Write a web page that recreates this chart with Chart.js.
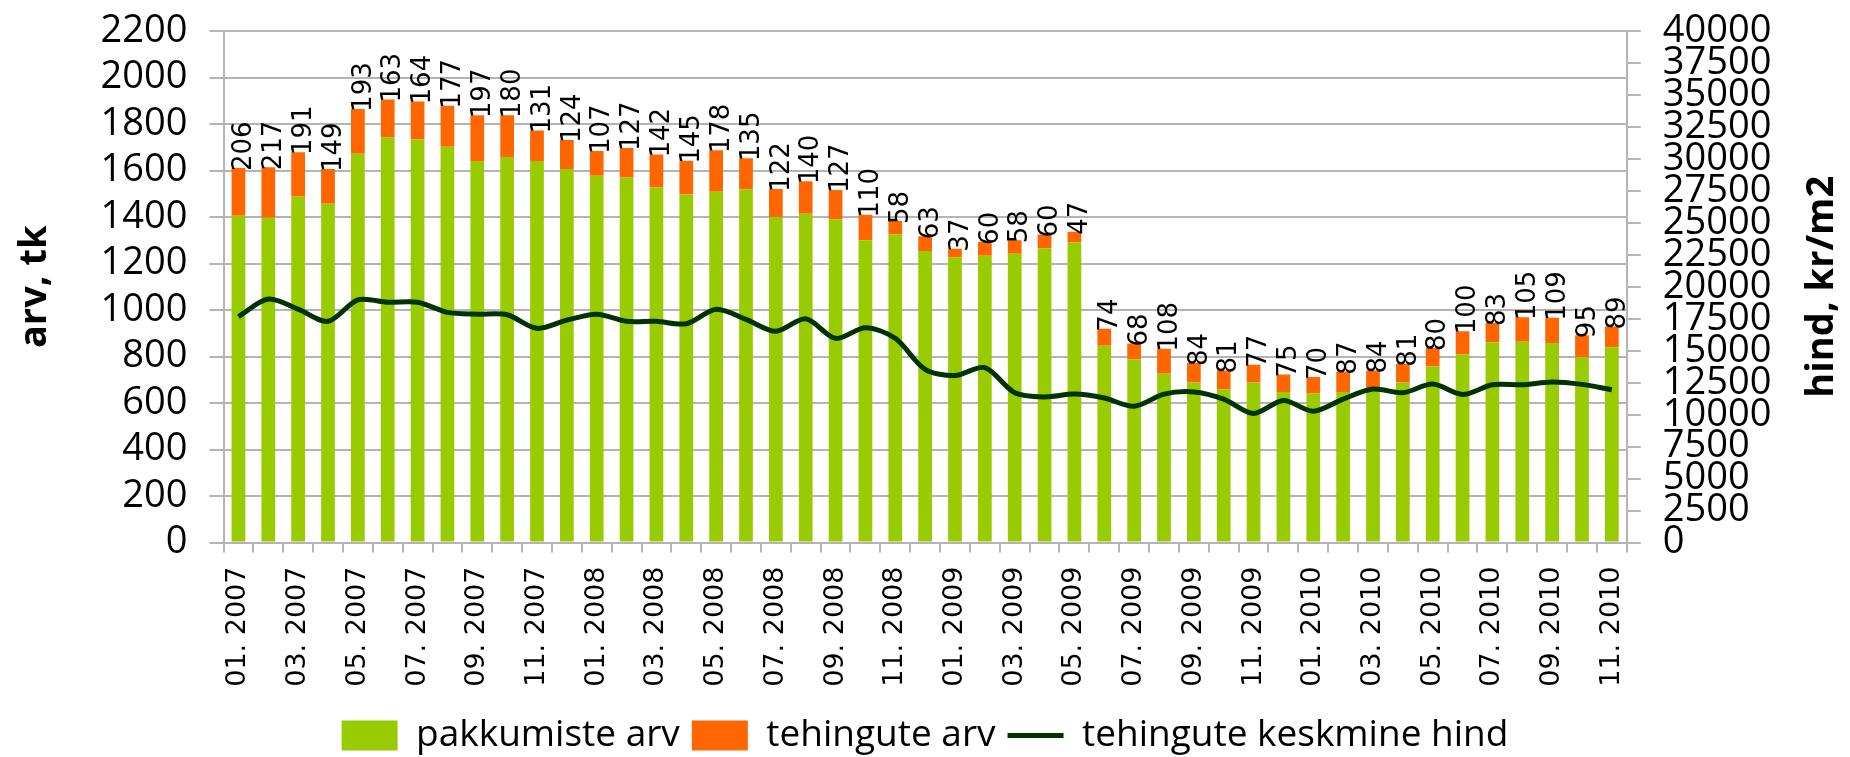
<!DOCTYPE html>
<html>
<head>
<meta charset="utf-8">
<script src="https://cdn.jsdelivr.net/npm/chart.js@4.4.1/dist/chart.umd.min.js"></script>
<style>
  html, body { margin: 0; padding: 0; background: #fff; }
  #wrap { width: 1850px; height: 757px; }
</style>
</head>
<body>
<div id="wrap"><canvas id="market-chart-canvas"></canvas></div>
<script>
// months 01.2007 - 11.2010
var months = ['01. 2007', '02. 2007', '03. 2007', '04. 2007', '05. 2007', '06. 2007', '07. 2007', '08. 2007', '09. 2007', '10. 2007', '11. 2007', '12. 2007',
  '01. 2008', '02. 2008', '03. 2008', '04. 2008', '05. 2008', '06. 2008', '07. 2008', '08. 2008', '09. 2008', '10. 2008', '11. 2008', '12. 2008',
  '01. 2009', '02. 2009', '03. 2009', '04. 2009', '05. 2009', '06. 2009', '07. 2009', '08. 2009', '09. 2009', '10. 2009', '11. 2009', '12. 2009',
  '01. 2010', '02. 2010', '03. 2010', '04. 2010', '05. 2010', '06. 2010', '07. 2010', '08. 2010', '09. 2010', '10. 2010', '11. 2010']

// pakkumiste arv (green part of the bar)
var pakkumised = [1405, 1397, 1488, 1457, 1672, 1742, 1733, 1702, 1641, 1658, 1641, 1607,
  1577, 1570, 1527, 1497, 1509, 1518, 1399, 1414, 1389, 1300, 1325, 1254,
  1227, 1233, 1242, 1265, 1290, 846, 788, 726, 688, 659, 688, 648,
  642, 648, 656, 688, 757, 809, 861, 864, 858, 797, 840]

// tehingute arv (orange part, also the labels)
var tehingud = [206, 217, 191, 149, 193, 163, 164, 177, 197, 180, 131, 124,
  107, 127, 142, 145, 178, 135, 122, 140, 127, 110, 58, 63,
  37, 60, 58, 60, 47, 74, 68, 108, 84, 81, 77, 75,
  70, 87, 84, 81, 80, 100, 83, 105, 109, 95, 89]

// tehingute keskmine hind, kr/m2
var hind = [17670, 19040, 18250, 17300, 18980, 18790, 18790, 18000, 17860, 17810, 16750, 17390,
  17860, 17300, 17300, 17110, 18250, 17450, 16520, 17500, 15970, 16800, 15970, 13540,
  13060, 13680, 11720, 11390, 11610, 11300, 10660, 11610, 11780, 11220, 10100, 11110,
  10270, 11220, 12000, 11720, 12390, 11580, 12340, 12340, 12560, 12370, 11950]

var leftTicks = [0, 200, 400, 600, 800, 1000, 1200, 1400, 1600, 1800, 2000, 2200]
var rightTicks = [0, 2500, 5000, 7500, 10000, 12500, 15000, 17500, 20000, 22500, 25000, 27500, 30000, 32500, 35000, 37500, 40000]

var gridColor = '#b4b4b4'
var tickFont = { family: '"Open Sans", sans-serif', size: 38 }

// numbers on top of the orange bars, rotated
var barLabels = {
  id: 'barLabels',
  afterDatasetsDraw: function (chart) {
    var ctx = chart.ctx
    var meta = chart.getDatasetMeta(1)
    ctx.save()
    ctx.font = '26px "DejaVu Sans"'
    ctx.fillStyle = '#000'
    ctx.textAlign = 'left'
    ctx.textBaseline = 'middle'
    meta.data.forEach(function (bar, i) {
      ctx.save()
      ctx.translate(bar.x + 6, bar.y + 3)
      ctx.rotate(-Math.PI / 2)
      ctx.fillText(String(tehingud[i]), 0, 0)
      ctx.restore()
    })
    ctx.restore()
  }
}

// right axis title reads bottom-to-top like the left one
var rightTitle = {
  id: 'rightTitle',
  afterDraw: function (chart) {
    var s = chart.scales.y1
    var ctx = chart.ctx
    ctx.save()
    ctx.font = 'bold 38px "Open Sans", sans-serif'
    ctx.fillStyle = '#000'
    ctx.textAlign = 'center'
    ctx.textBaseline = 'middle'
    ctx.translate(s.right - 5 - 22.8, (s.top + s.bottom) / 2)
    ctx.rotate(-Math.PI / 2)
    ctx.fillText('hind, kr/m2', 0, 0)
    ctx.restore()
  }
}

// labels may stick out above the plot, like in the original
function noTopPadding(scale) {
  scale.paddingTop = 0
}

Chart.defaults.color = '#000'
Chart.defaults.font.family = '"Open Sans", sans-serif'

var marketChartCanvas = document.getElementById('market-chart-canvas').getContext('2d')
var marketChart = new Chart(marketChartCanvas, {
  type: 'bar',
  data: {
    labels: months,
    datasets: [
      {
        label: 'pakkumiste arv',
        backgroundColor: '#99cc00',
        data: pakkumised,
        yAxisID: 'y',
        stack: 'arv',
        pointStyle: 'rect',
        barPercentage: 0.46,
        categoryPercentage: 1.0
      },
      {
        label: 'tehingute arv',
        backgroundColor: '#ff6600',
        data: tehingud,
        yAxisID: 'y',
        stack: 'arv',
        pointStyle: 'rect',
        barPercentage: 0.46,
        categoryPercentage: 1.0
      },
      {
        type: 'line',
        label: 'tehingute keskmine hind',
        borderColor: '#003300',
        backgroundColor: '#003300',
        borderWidth: 5,
        pointRadius: 0,
        pointStyle: 'line',
        tension: 0.3,
        data: hind,
        yAxisID: 'y1',
        order: -1
      }
    ]
  },
  options: {
    responsive: true,
    maintainAspectRatio: false,
    animation: false,
    layout: {
      padding: { top: 31, right: 0, bottom: -7, left: 0 }
    },
    plugins: {
      tooltip: { enabled: false },
      legend: {
        position: 'bottom',
        title: { display: true, text: '', font: { size: 1 }, padding: { top: 1.5, bottom: 1.5 } },
        labels: {
          usePointStyle: true,
          pointStyleWidth: 56,
          boxHeight: 30,
          padding: 12,
          font: { family: '"Open Sans", sans-serif', size: 37 },
          sort: function (a, b) { return a.datasetIndex - b.datasetIndex }
        }
      }
    },
    scales: {
      x: {
        stacked: true,
        grid: {
          display: true,
          drawOnChartArea: false,
          drawTicks: true,
          tickLength: 10,
          color: gridColor,
          lineWidth: 2
        },
        border: { color: gridColor, width: 2 },
        ticks: {
          autoSkip: false,
          minRotation: 90,
          maxRotation: 90,
          padding: 14,
          font: { family: '"DejaVu Sans"', size: 27 },
          callback: function (v, i) { return i % 2 === 0 ? months[i] : '' }
        }
      },
      y: {
        position: 'left',
        stacked: true,
        min: 0,
        max: 2200,
        afterBuildTicks: function (axis) {
          axis.ticks = leftTicks.map(function (v) { return { value: v } })
        },
        afterFit: noTopPadding,
        grid: { color: gridColor, lineWidth: 2, tickLength: 14 },
        border: { color: gridColor, width: 2 },
        ticks: {
          autoSkip: false,
          padding: 22,
          font: tickFont,
          callback: function (v) { return String(v) }
        },
        title: {
          display: true,
          text: 'arv, tk',
          font: { family: '"Open Sans", sans-serif', size: 38, weight: 'bold' },
          padding: { top: 12, bottom: 21 }
        }
      },
      y1: {
        position: 'right',
        stacked: false,
        min: 0,
        max: 40000,
        afterBuildTicks: function (axis) {
          axis.ticks = rightTicks.map(function (v) { return { value: v } })
        },
        afterFit: noTopPadding,
        grid: { drawOnChartArea: false, color: gridColor, lineWidth: 2, tickLength: 14 },
        border: { color: gridColor, width: 2 },
        ticks: {
          autoSkip: false,
          padding: 22,
          font: tickFont,
          callback: function (v) { return String(v) }
        },
        title: {
          display: true,
          text: 'hind, kr/m2',
          color: 'rgba(0,0,0,0)',
          font: { family: '"Open Sans", sans-serif', size: 38, weight: 'bold' },
          padding: { top: 5, bottom: 6 }
        }
      }
    }
  },
  plugins: [barLabels, rightTitle]
})
</script>
</body>
</html>
